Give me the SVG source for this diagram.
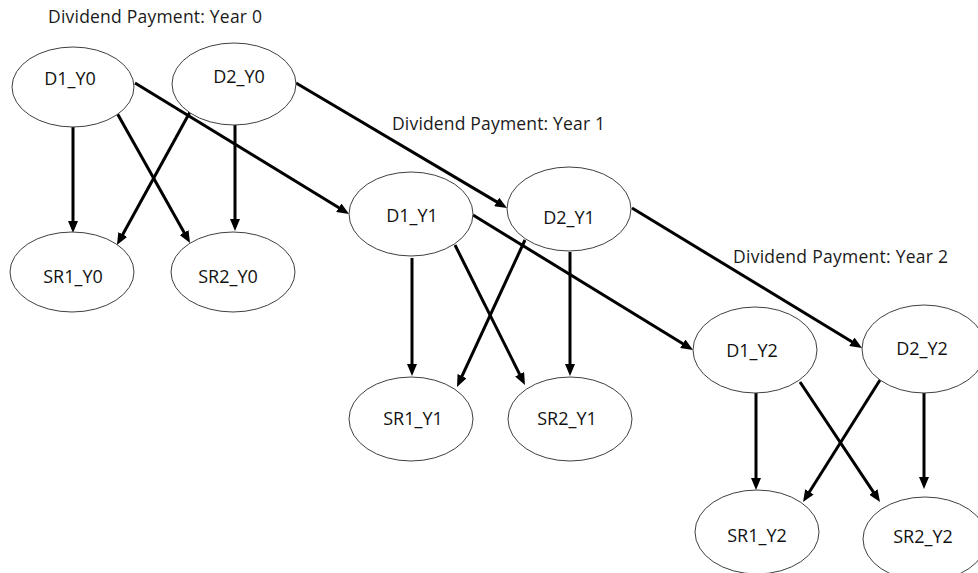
<svg xmlns="http://www.w3.org/2000/svg" width="978" height="573" viewBox="0 0 978 573">
<style>
.bg{fill:#ffffff}
.node ellipse{fill:#ffffff;stroke:#404040;stroke-width:1}
.lbl{font-family:"Open Sans","Liberation Sans",Arial,sans-serif;font-size:18px;fill:#111;text-anchor:middle}
.title{font-family:"Open Sans","Liberation Sans",Arial,sans-serif;font-size:17.5px;fill:#1a1a1a}
.edges line{stroke:#000;stroke-width:3;marker-end:url(#ah)}
</style>
<defs>
<marker id="ah" markerUnits="userSpaceOnUse" markerWidth="12" markerHeight="10" refX="4" refY="5" orient="auto" viewBox="0 0 12 10">
<path d="M0,0 L12,5 L0,10 z" fill="#000"/>
</marker>
</defs>
<rect class="bg" x="0" y="0" width="978" height="573"/>
<g id="titles">
<text class="title" x="48" y="23" textLength="214" lengthAdjust="spacing">Dividend Payment: Year 0</text>
<text class="title" x="392" y="130" textLength="213" lengthAdjust="spacing">Dividend Payment: Year 1</text>
<text class="title" x="733" y="263" textLength="215" lengthAdjust="spacing">Dividend Payment: Year 2</text>
</g>
<g class="edges" id="connectors">
<line x1="73" y1="127" x2="73" y2="225"/>
<line x1="117" y1="113" x2="186.1" y2="236"/>
<line x1="190" y1="112" x2="120.8" y2="238"/>
<line x1="235" y1="125" x2="235" y2="223"/>
<line x1="135" y1="83" x2="342.2" y2="209.8"/>
<line x1="296" y1="83" x2="500.1" y2="203.9"/>
<line x1="412" y1="258" x2="412" y2="368"/>
<line x1="455" y1="245" x2="521.4" y2="377.8"/>
<line x1="525" y1="240" x2="460.4" y2="379.7"/>
<line x1="570" y1="252" x2="570" y2="368"/>
<line x1="473" y1="215" x2="686.2" y2="345.8"/>
<line x1="632" y1="208" x2="855.2" y2="343.8"/>
<line x1="756" y1="393" x2="756" y2="482"/>
<line x1="800" y1="382" x2="875.6" y2="495.3"/>
<line x1="880" y1="380" x2="807.3" y2="495.2"/>
<line x1="924" y1="393" x2="924" y2="481"/>
</g>
<g class="node" id="D1_Y0"><ellipse cx="73" cy="87" rx="61" ry="40"/><text class="lbl" x="70" y="85">D1_Y0</text></g>
<g class="node" id="D2_Y0"><ellipse cx="234" cy="84" rx="62" ry="41"/><text class="lbl" x="239" y="83">D2_Y0</text></g>
<g class="node" id="SR1_Y0"><ellipse cx="72" cy="272" rx="62" ry="40"/><text class="lbl" x="73" y="283">SR1_Y0</text></g>
<g class="node" id="SR2_Y0"><ellipse cx="233" cy="272" rx="62" ry="40"/><text class="lbl" x="228" y="283">SR2_Y0</text></g>
<g class="node" id="D1_Y1"><ellipse cx="411" cy="214" rx="62" ry="42"/><text class="lbl" x="412" y="222">D1_Y1</text></g>
<g class="node" id="D2_Y1"><ellipse cx="569" cy="209" rx="62" ry="42"/><text class="lbl" x="569" y="224">D2_Y1</text></g>
<g class="node" id="SR1_Y1"><ellipse cx="411" cy="419" rx="62" ry="42"/><text class="lbl" x="413" y="425">SR1_Y1</text></g>
<g class="node" id="SR2_Y1"><ellipse cx="570" cy="419" rx="62" ry="42"/><text class="lbl" x="567" y="425">SR2_Y1</text></g>
<g class="node" id="D1_Y2"><ellipse cx="755" cy="350" rx="62" ry="43"/><text class="lbl" x="752" y="357">D1_Y2</text></g>
<g class="node" id="D2_Y2"><ellipse cx="924" cy="349" rx="62" ry="44"/><text class="lbl" x="922" y="355">D2_Y2</text></g>
<g class="node" id="SR1_Y2"><ellipse cx="757" cy="532" rx="62" ry="42"/><text class="lbl" x="757" y="542">SR1_Y2</text></g>
<g class="node" id="SR2_Y2"><ellipse cx="925" cy="539" rx="62" ry="42"/><text class="lbl" x="923" y="543">SR2_Y2</text></g>
</svg>
